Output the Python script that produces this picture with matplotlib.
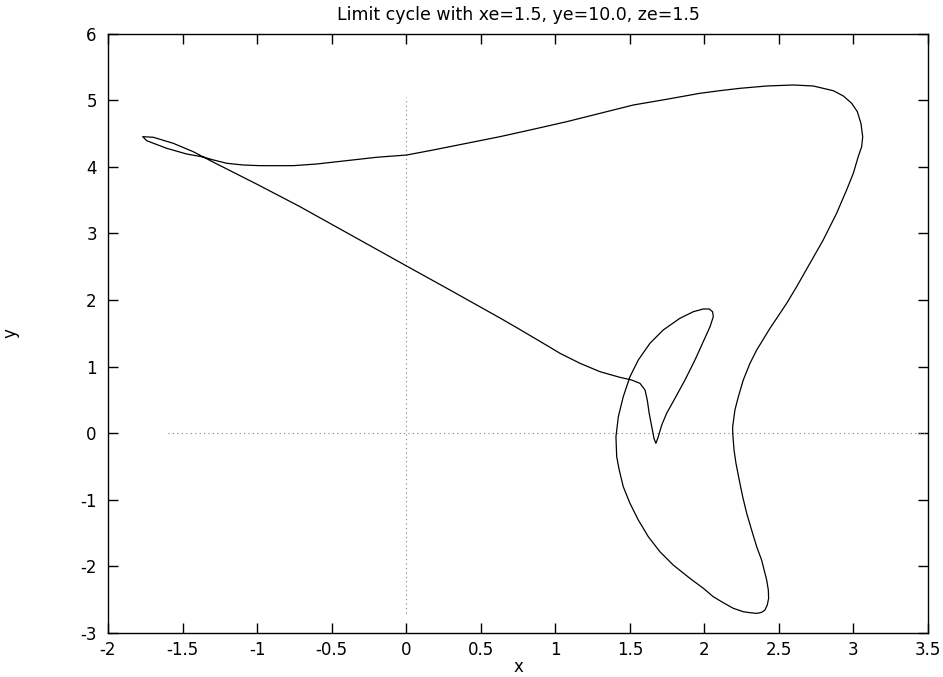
import matplotlib
matplotlib.use("Agg")
import matplotlib.pyplot as plt

# Limit cycle trace (x, y), in drawing order
curve_x = [
    -1.360, -1.300, -1.000, -0.712, -0.355, 0.003, 0.294, 0.629, 0.741, 0.964,
    1.032, 1.166, 1.300, 1.434, 1.512, 1.568, 1.602, 1.617, 1.630, 1.647,
    1.662, 1.675, 1.691, 1.714, 1.747, 1.803, 1.870, 1.937, 1.993, 2.038,
    2.060, 2.055, 2.033, 1.993, 1.926, 1.836, 1.724, 1.635, 1.557, 1.501,
    1.456, 1.423, 1.407, 1.412, 1.429, 1.456, 1.501, 1.557, 1.624, 1.702,
    1.791, 1.903, 1.993, 2.060, 2.127, 2.194, 2.261, 2.306, 2.351, 2.384,
    2.406, 2.422, 2.431, 2.429, 2.418, 2.384, 2.351, 2.317, 2.284, 2.257,
    2.234, 2.212, 2.199, 2.190, 2.190, 2.205, 2.228, 2.261, 2.306, 2.351,
    2.440, 2.552, 2.619, 2.708, 2.797, 2.887, 2.954, 2.999, 3.032, 3.055,
    3.062, 3.050, 3.026, 2.988, 2.932, 2.865, 2.730, 2.596, 2.418, 2.239,
    2.105, 1.970, 1.747, 1.523, 1.300, 1.076, 0.852, 0.629, 0.406, 0.182,
    0.003, -0.198, -0.422, -0.600, -0.757, -0.981, -1.093, -1.204, -1.300,
    -1.360, -1.472, -1.606, -1.740, -1.767, -1.696, -1.562, -1.428, -1.360]
curve_y = [
    4.150, 4.080, 3.740, 3.403, 2.957, 2.511, 2.150, 1.730, 1.585, 1.290,
    1.198, 1.048, 0.922, 0.837, 0.797, 0.747, 0.647, 0.496, 0.296, 0.095,
    -0.080, -0.155, -0.056, 0.120, 0.296, 0.522, 0.797, 1.098, 1.373, 1.598,
    1.749, 1.824, 1.865, 1.865, 1.824, 1.725, 1.549, 1.349, 1.098, 0.847,
    0.546, 0.245, -0.056, -0.356, -0.556, -0.807, -1.057, -1.308, -1.559, -1.785,
    -1.985, -2.185, -2.335, -2.462, -2.552, -2.636, -2.687, -2.702, -2.712, -2.697,
    -2.662, -2.586, -2.486, -2.361, -2.211, -1.910, -1.710, -1.459, -1.208, -0.958,
    -0.707, -0.456, -0.256, 0.000, 0.095, 0.346, 0.546, 0.797, 1.048, 1.248,
    1.574, 1.950, 2.200, 2.552, 2.902, 3.304, 3.654, 3.905, 4.155, 4.305,
    4.456, 4.657, 4.832, 4.958, 5.068, 5.147, 5.218, 5.233, 5.218, 5.183,
    5.148, 5.108, 5.018, 4.932, 4.807, 4.681, 4.567, 4.456, 4.356, 4.256,
    4.180, 4.146, 4.090, 4.045, 4.020, 4.020, 4.030, 4.056, 4.110,
    4.150, 4.195, 4.281, 4.395, 4.456, 4.447, 4.356, 4.230, 4.150]

# Dotted zero axes extents
zero_hline_x = [-1.6, 3.5]
zero_vline_y = [-2.7, 5.05]

x_ticks = [-2, -1.5, -1, -0.5, 0, 0.5, 1, 1.5, 2, 2.5, 3, 3.5]
x_tick_labels = ["-2", "-1.5", "-1", "-0.5", "0", "0.5", "1", "1.5", "2", "2.5", "3", "3.5"]
y_ticks = [-3, -2, -1, 0, 1, 2, 3, 4, 5, 6]
y_tick_labels = ["-3", "-2", "-1", "0", "1", "2", "3", "4", "5", "6"]

title = "Limit cycle with xe=1.5, ye=10.0, ze=1.5"

plt.rcParams['font.family'] = ['DejaVu Sans']

fig = plt.figure(figsize=(9.43, 6.77), dpi=100)
ax = fig.add_axes([0.1145, 0.0657, 0.8696, 0.8841])

ax.plot(zero_hline_x, [0, 0], color="#808080", lw=0.8, linestyle=(0, (1, 3)))
ax.plot([0, 0], zero_vline_y, color="#808080", lw=0.8, linestyle=(0, (1, 3)))
ax.plot(curve_x, curve_y, color="black", lw=0.9, solid_joinstyle="round")

ax.set_xlim(-2, 3.5)
ax.set_ylim(-3, 6)
ax.set_xticks(x_ticks)
ax.set_xticklabels(x_tick_labels)
ax.set_yticks(y_ticks)
ax.set_yticklabels(y_tick_labels)
ax.tick_params(direction="in", length=7, width=1, top=True, right=True,
               labelsize=12)
ax.tick_params(axis="x", pad=6)
ax.tick_params(axis="y", pad=8)
for s in ax.spines.values():
    s.set_linewidth(1)

ax.set_title(title, fontsize=12.5, pad=10)
ax.set_xlabel("x", fontsize=12)
ax.xaxis.label.set_verticalalignment("baseline")
ax.xaxis.set_label_coords(0.5, -0.066)
ax.set_ylabel("y", fontsize=12)
ax.yaxis.set_label_coords(-0.108, 0.5)

fig.savefig("out.png", dpi=100)
